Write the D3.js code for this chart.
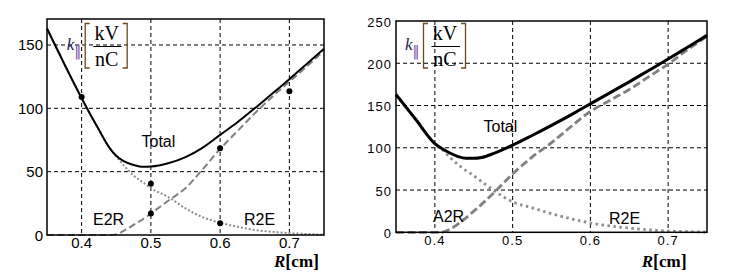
<!DOCTYPE html>
<html lang="en">

<head>
    <meta charset="UTF-8">
    <title>k parallel</title>
    <script src="https://d3js.org/d3.v7.min.js"></script>
    <style>
        body { margin: 0; background: #fff; }
        text { font-family: "Liberation Sans", Arial, sans-serif; }
        .serif { font-family: "Liberation Serif", "Times New Roman", serif; }
    </style>
</head>

<body>
    <div></div>
    <script>
        // left panel (E2R / R2E)
        var R1 = [0.35, 0.375, 0.40, 0.425, 0.44, 0.45, 0.46, 0.475, 0.49, 0.50, 0.525, 0.55, 0.575, 0.60, 0.625, 0.65, 0.675, 0.70, 0.725, 0.75];
        var total1 = [163, 135, 108, 83, 69, 62.5, 58.5, 55.3, 53.8, 54, 56.6, 61.5, 69, 79, 89, 100, 111.5, 123, 135, 147];
        var dash1 = [0, 0, 0, 0, 0, 0.5, 3, 8, 13, 17, 27, 37, 52, 68, 82, 96, 109, 121, 133, 145.5];
        var dot1 = [163, 135, 108, 83, 69, 62, 55.5, 47, 41, 37, 30, 21, 14, 9.7, 6.5, 4, 2.5, 1.5, 0.8, 0.3];
        var ptsR1 = [0.4, 0.5, 0.5, 0.6, 0.6, 0.7];
        var ptsK1 = [109, 40.5, 17, 68.5, 9.2, 113.5];

        // right panel (A2R / R2E)
        var R2 = [0.35, 0.375, 0.40, 0.41, 0.42, 0.43, 0.44, 0.45, 0.46, 0.475, 0.50, 0.525, 0.55, 0.575, 0.60, 0.625, 0.65, 0.675, 0.70, 0.725, 0.75];
        var total2 = [163, 134, 105, 98.5, 93.5, 89.5, 87.5, 87.5, 88.5, 93, 103, 114.5, 126.5, 139, 152, 165, 178, 191.5, 205, 219, 233];
        var dash2 = [0, 0, 0, 0.3, 4, 10, 17, 25, 33, 46, 69, 89, 106, 125, 143, 156, 169, 184, 199, 216, 232];
        var dot2 = [163, 134, 105, 97.5, 88, 80, 73, 67, 60, 50, 36, 29, 22, 16, 11, 7.5, 5, 3, 1.5, 0.7, 0.3];

        var xTicks = [0.4, 0.5, 0.6, 0.7];
        var yTicks1 = [0, 50, 100, 150];
        var yTicks2 = [0, 50, 100, 150, 200, 250];

        var svg = d3.select("div").append("svg")
            .attr("width", 748)
            .attr("height", 278);

        function panel(o) {
            var x = d3.scaleLinear().domain([0.35, 0.75]).range([o.left, o.right]);
            var y = d3.scaleLinear().domain([0, o.ymax]).range([o.bottom, o.top]);
            var g = svg.append("g");

            // grid
            g.selectAll(".gx").data(xTicks).enter().append("line")
                .attr("x1", function(d) { return x(d); })
                .attr("x2", function(d) { return x(d); })
                .attr("y1", o.top).attr("y2", o.bottom)
                .attr("stroke", "#000").attr("stroke-width", 1)
                .attr("stroke-dasharray", "4,3");
            g.selectAll(".gy").data(o.yTicks.filter(function(d) { return d > 0 && d < o.ymax - 1; }))
                .enter().append("line")
                .attr("x1", o.left).attr("x2", o.right)
                .attr("y1", function(d) { return y(d); })
                .attr("y2", function(d) { return y(d); })
                .attr("stroke", "#000").attr("stroke-width", 1)
                .attr("stroke-dasharray", "4,3");

            var line = d3.line()
                .x(function(d, i) { return x(o.R[i]); })
                .y(function(d) { return y(d); })
                .curve(d3.curveMonotoneX);

            g.append("path").datum(o.dot).attr("d", line)
                .attr("fill", "none").attr("stroke", "#8c8c8c")
                .attr("stroke-width", o.thin).attr("stroke-dasharray", o.dotDash);
            g.append("path").datum(o.dash).attr("d", line)
                .attr("fill", "none").attr("stroke", "#808080")
                .attr("stroke-width", o.thin).attr("stroke-dasharray", o.dashDash);
            g.append("path").datum(o.total).attr("d", line)
                .attr("fill", "none").attr("stroke", "#000")
                .attr("stroke-width", o.thick);

            if (o.pR) {
                g.selectAll("circle").data(o.pK).enter().append("circle")
                    .attr("cx", function(d, i) { return x(o.pR[i]); })
                    .attr("cy", function(d) { return y(d); })
                    .attr("r", 3).attr("fill", "#000");
            }

            // frame
            g.append("rect")
                .attr("x", o.left).attr("y", o.top)
                .attr("width", o.right - o.left).attr("height", o.bottom - o.top)
                .attr("fill", "none").attr("stroke", "#000").attr("stroke-width", 1.5);

            // tick labels
            g.selectAll(".tx").data(xTicks).enter().append("text")
                .attr("x", function(d) { return x(d); })
                .attr("y", o.bottom + 13)
                .attr("text-anchor", "middle")
                .style("font-size", o.fs + "px")
                .style("letter-spacing", o.ls + "px")
                .text(function(d) { return d.toFixed(1); });
            g.selectAll(".ty").data(o.yTicks).enter().append("text")
                .attr("x", o.left - 4)
                .attr("y", function(d) { return y(d) + 5.5; })
                .attr("text-anchor", "end")
                .style("font-size", o.fs + "px")
                .style("letter-spacing", o.ls + "px")
                .text(function(d) { return d; });

            // curve labels
            o.labels.forEach(function(l) {
                g.append("text").attr("x", l[0]).attr("y", l[1])
                    .style("font-size", "16px").text(l[2]);
            });

            kLabel(g, o.kx, 50);

            var ax = g.append("text").attr("class", "serif")
                .attr("x", o.rx).attr("y", 267)
                .style("font-weight", "bold");
            ax.append("tspan").style("font-style", "italic").style("font-size", "17px").text("R");
            ax.append("tspan").style("font-size", "18px").text("[");
            ax.append("tspan").style("font-size", "17px").text("cm");
            ax.append("tspan").style("font-size", "18px").text("]");
        }

        function kLabel(g, x0, y0) {
            g.append("text").attr("class", "serif")
                .attr("x", x0).attr("y", y0)
                .style("font-style", "italic").style("font-size", "17px")
                .attr("fill", "#1e1e55").text("k");
            g.append("text")
                .attr("x", x0 + 7.5).attr("y", y0 + 6)
                .style("font-family", "DejaVu Sans").style("font-size", "14px")
                .attr("fill", "#7d4f9e").text("‖");
            var bc = "#6b4a22";
            g.append("path")
                .attr("d", "M" + (x0 + 23) + ",23.5H" + (x0 + 18.5) + "V68H" + (x0 + 23))
                .attr("fill", "none").attr("stroke", bc).attr("stroke-width", 1.3);
            g.append("path")
                .attr("d", "M" + (x0 + 56) + ",23.5H" + (x0 + 60.5) + "V68H" + (x0 + 56))
                .attr("fill", "none").attr("stroke", bc).attr("stroke-width", 1.3);
            g.append("text").attr("class", "serif")
                .attr("x", x0 + 40).attr("y", 40)
                .attr("text-anchor", "middle").style("font-size", "20px").text("kV");
            g.append("line")
                .attr("x1", x0 + 26.5).attr("x2", x0 + 55)
                .attr("y1", 46.5).attr("y2", 46.5)
                .attr("stroke", "#000").attr("stroke-width", 1);
            g.append("text").attr("class", "serif")
                .attr("x", x0 + 40).attr("y", 66)
                .attr("text-anchor", "middle").style("font-size", "20px").text("nC");
        }

        panel({
            left: 47, right: 324, top: 19, bottom: 235, ymax: 170.5,
            R: R1, total: total1, dash: dash1, dot: dot1, pR: ptsR1, pK: ptsK1,
            yTicks: yTicks1, thick: 2, thin: 2, dashDash: "7,3.5", dotDash: "2,2",
            fs: 15, ls: 0, kx: 66.7, rx: 274,
            labels: [[141.5, 147, "Total"], [93, 225, "E2R"], [244, 225, "R2E"]]
        });

        panel({
            left: 396, right: 707, top: 21, bottom: 232.3, ymax: 250,
            R: R2, total: total2, dash: dash2, dot: dot2,
            yTicks: yTicks2, thick: 3, thin: 2.8, dashDash: "8,3.5", dotDash: "2.5,3.5",
            fs: 13, ls: 1, kx: 405, rx: 641.7,
            labels: [[483.5, 131.5, "Total"], [433, 222, "A2R"], [609, 224, "R2E"]]
        });
    </script>
</body>

</html>
